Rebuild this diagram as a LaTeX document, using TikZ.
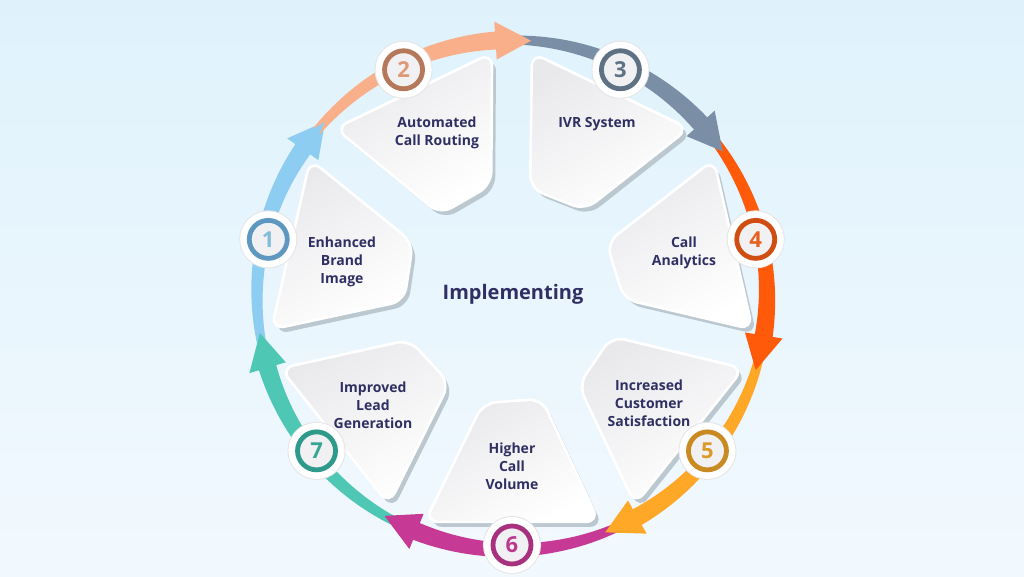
\documentclass[tikz,border=0pt]{standalone}
\usepackage{fontspec}
\setmainfont{Open Sans}
\usetikzlibrary{positioning}

\definecolor{bgtop}{HTML}{DFF2FC}
\definecolor{bgbot}{HTML}{F2F9FE}
\definecolor{navy}{HTML}{2F2F63}
\definecolor{panelgray}{HTML}{E9E9EC}
\definecolor{panelshadow}{HTML}{BCC8CF}
\definecolor{badgein}{HTML}{F1F1F3}
% arrow / ring / number colours
\definecolor{aone}{HTML}{8ECDF2}   \definecolor{rone}{HTML}{5E97BF}   \definecolor{none}{HTML}{82BCDD}
\definecolor{atwo}{HTML}{F9B08A}   \definecolor{rtwo}{HTML}{B5785A}   \definecolor{ntwo}{HTML}{DE9A76}
\definecolor{athree}{HTML}{7A8FA6} \definecolor{rthree}{HTML}{5F7283} \definecolor{nthree}{HTML}{5F7283}
\definecolor{afour}{HTML}{FF5A0A}  \definecolor{rfour}{HTML}{D04E12}  \definecolor{nfour}{HTML}{E8601D}
\definecolor{afive}{HTML}{FFA726}  \definecolor{rfive}{HTML}{C98A22}  \definecolor{nfive}{HTML}{DB9A2A}
\definecolor{asix}{HTML}{C63A96}   \definecolor{rsix}{HTML}{A8317F}   \definecolor{nsix}{HTML}{BA3A8F}
\definecolor{aseven}{HTML}{4FC7B5} \definecolor{rseven}{HTML}{2F9A8B} \definecolor{nseven}{HTML}{38A694}

% tapered ring arrow with notched tail: #1 badge angle, #2 colour
\newcommand{\ringarrow}[2]{%
  \fill[#2] ({#1+21.5}:255)
    -- plot[domain={#1+24.5}:{#1-22}, samples=30] (\x:{255+4.5+4.5*(#1+24.5-(\x))/46.5})
    -- ({#1-22}:{274}) -- ({#1-30}:{255}) -- ({#1-22}:{236})
    -- plot[domain={#1-22}:{#1+24.5}, samples=30] (\x:{255-4.5-4.5*(#1+24.5-(\x))/46.5})
    -- cycle;
}
% rounded panel with its shadow: #1 badge angle
\newcommand{\ringpanel}[1]{%
  \fill[panelshadow, rounded corners=10pt, shift={(4,-5)}]
    ({#1+21}:243) -- ({#1-21}:243) -- ({#1-15}:112) -- ({#1+16}:108) -- cycle;
  \shade[panelbox]
    ({#1+21}:243) -- ({#1-21}:243) -- ({#1-15}:112) -- ({#1+16}:108) -- cycle;
}

\begin{document}
\begin{tikzpicture}[x=0.75pt, y=0.75pt,
    panelbox/.style={rounded corners=10pt, top color=panelgray, bottom color=white,
      shading angle=30, draw=white, line width=2pt},
    badge/.style 2 args={circle, minimum size=28.5pt, inner sep=0pt, fill=badgein,
      draw=#1, line width=3.6pt, text=#2, font=\fontsize{16.5}{16.5}\selectfont\bfseries,
      preaction={draw=black!10, line width=15pt},
      preaction={draw=white, line width=13.5pt}},
    steptext/.style={align=center, text=navy,
      font=\fontsize{10.5}{13.5}\selectfont\bfseries}]
  % Background
  \shade[top color=bgtop, bottom color=bgbot] (-512,-281) rectangle (512,295);
  \useasboundingbox (-512,-281) rectangle (512,295);
  % Arrows
  \ringarrow{167.14}{aone}
  \ringarrow{-141.43}{aseven}
  \ringarrow{-90}{asix}
  \ringarrow{-38.57}{afive}
  \ringarrow{12.86}{afour}
  \ringarrow{64.29}{athree}
  \ringarrow{115.71}{atwo}
  % Panels
  \ringpanel{167.14}
  \ringpanel{115.71}
  \ringpanel{64.29}
  \ringpanel{12.86}
  \ringpanel{-38.57}
  \ringpanel{-90}
  \ringpanel{-141.43}
  % Badges
  \node[badge={rone}{none}] (b1) at (167.14:250) {1};
  \node[badge={rtwo}{ntwo}] (b2) at (115.71:250) {2};
  \node[badge={rthree}{nthree}] (b3) at (64.29:250) {3};
  \node[badge={rfour}{nfour}] (b4) at (12.86:250) {4};
  \node[badge={rfive}{nfive}] (b5) at (-38.57:250) {5};
  \node[badge={rsix}{nsix}] (b6) at (-90:250) {6};
  \node[badge={rseven}{nseven}] (b7) at (-141.43:250) {7};
  % Labels
  \node[steptext] (t1) at (-170,33) {Enhanced\\Brand\\Image};
  \node[steptext] (t2) at (-75,162) {Automated\\Call Routing};
  \node[steptext] (t3) at (85,171) {IVR System};
  \node[steptext] (t4) at (172,42) {Call\\Analytics};
  \node[steptext] (t5) at (137,-108) {Increased\\Customer\\Satisfaction};
  \node[steptext] (t6) at (0,-171) {Higher\\Call\\Volume};
  \node[steptext] (t7) at (-139,-110) {Improved\\Lead\\Generation};
  \node[text=navy, font=\fontsize{15}{15}\selectfont\bfseries] (centre) at (1,1) {Implementing};
\end{tikzpicture}
\end{document}
